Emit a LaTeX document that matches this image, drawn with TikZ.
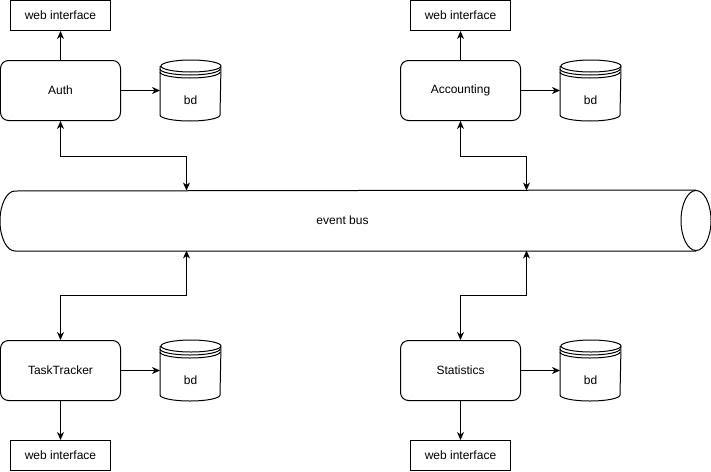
\documentclass[tikz,border=0pt]{standalone}
\usepackage{fontspec}
\setmainfont{Liberation Sans}
\usetikzlibrary{arrows.meta,positioning}

\begin{document}
\begin{tikzpicture}[x=1pt,y=1pt,line width=1pt,
  >={Stealth[length=8pt,width=7pt,inset=2.5pt]},
  every node/.style={font=\fontsize{12}{14}\selectfont},
  service/.style={draw,rounded corners=8pt,minimum width=120pt,minimum height=60pt,inner sep=0pt},
  webbox/.style={draw,minimum width=100pt,minimum height=30pt,inner sep=0pt},
  store/.style={minimum width=60pt,minimum height=60pt,inner sep=0pt,text height=27pt,text depth=0pt},
  rim/.style={x radius=30pt,y radius=6pt}]
\useasboundingbox (-0.5,0.5) rectangle (710.5,-470.5);
% services
\node[service] (auth) at (60,-90) {Auth};
\node[service] (acc) at (460,-90) {Accounting};
\node[service] (task) at (60,-370) {TaskTracker};
\node[service] (stat) at (460,-370) {Statistics};
% storages
\node[store] (bdA) at (190,-90) {bd};
\node[store] (bdB) at (590,-90) {bd};
\node[store] (bdC) at (190,-370) {bd};
\node[store] (bdD) at (590,-370) {bd};
\foreach \s in {bdA,bdB,bdC,bdD} {
  \draw ([yshift=-6pt]\s.north west) -- ([yshift=6pt]\s.south west)
    arc[start angle=180,end angle=360,rim] -- ([yshift=-6pt]\s.north east)
    arc[start angle=0,end angle=360,rim];
  \foreach \d in {3,6}
    \draw ([yshift=-6pt-\d pt]\s.north west) arc[start angle=180,end angle=360,rim];
}
% web interfaces
\node[webbox] (webA) at (60,-15) {web interface};
\node[webbox] (webB) at (460,-15) {web interface};
\node[webbox] (webC) at (60,-455) {web interface};
\node[webbox] (webD) at (460,-455) {web interface};
% bus
\node[minimum width=680pt,minimum height=60pt,inner sep=0pt,
  label={[xshift=-13pt]center:event bus}] (bus) at (355,-220) {};
\draw (bus.south east) -- (bus.south west)
  arc[start angle=270,end angle=90,x radius=15pt,y radius=30pt] -- (bus.north east);
\draw (bus.east) ellipse[x radius=15pt,y radius=30pt];
\coordinate (tapA) at (186,-190);
\coordinate (tapB) at (526,-190);
\coordinate (tapC) at (186,-250);
\coordinate (tapD) at (526,-250);
\path[->]
(auth) edge (webA)
(acc) edge (webB)
(task) edge (webC)
(stat) edge (webD)
(auth) edge (bdA)
(acc) edge (bdB)
(task) edge (bdC)
(stat) edge (bdD);
\draw[<->] (auth.south) -- ++(0,-35) -| (tapA);
\draw[<->] (acc.south) -- ++(0,-35) -| (tapB);
\draw[<->] (task.north) -- ++(0,45) -| (tapC);
\draw[<->] (stat.north) -- ++(0,45) -| (tapD);
\end{tikzpicture}
\end{document}
